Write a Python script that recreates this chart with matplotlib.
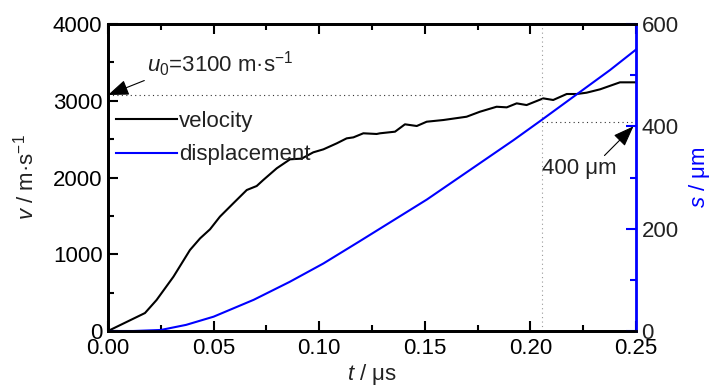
import matplotlib
matplotlib.use("Agg")
import matplotlib.pyplot as plt
from matplotlib.ticker import MultipleLocator
from matplotlib import font_manager

fams = {f.name for f in font_manager.fontManager.ttflist}
fam = ['Liberation Sans Narrow'] if 'Liberation Sans Narrow' in fams else ['Liberation Sans']
plt.rcParams['font.family'] = fam + ['DejaVu Sans']
plt.rcParams['mathtext.fontset'] = 'custom'
plt.rcParams['mathtext.rm'] = fam[0]
plt.rcParams['mathtext.it'] = fam[0] + ':italic'

# velocity (m/s) vs time (us)
t_v = [0.0, 0.0175, 0.023, 0.031, 0.0388, 0.0436, 0.0483, 0.053, 0.0593, 0.0657, 0.0704,
       0.0735, 0.0799, 0.0862, 0.0917, 0.0972, 0.102, 0.1083, 0.113, 0.1162, 0.1209,
       0.1272, 0.1288, 0.1359, 0.1406, 0.1462, 0.1509, 0.1588, 0.1698, 0.1761, 0.184,
       0.1888, 0.1935, 0.1982, 0.2061, 0.2108, 0.2172, 0.222, 0.2266, 0.233, 0.2424, 0.25]
v = [0, 234, 404, 708, 1055, 1207, 1325, 1490, 1663, 1837, 1889,
     1967, 2120, 2237, 2246, 2328, 2367, 2445, 2510, 2523, 2576,
     2567, 2576, 2597, 2693, 2671, 2727, 2749, 2792, 2857, 2922,
     2914, 2966, 2944, 3031, 3010, 3088, 3088, 3105, 3149, 3240, 3240]

# displacement (um) vs time (us)
t_s = [0.0, 0.012, 0.025, 0.037, 0.05, 0.069, 0.086, 0.102, 0.119, 0.151, 0.192, 0.2045, 0.2377, 0.25]
s = [0, 0, 2, 12, 28, 61, 96, 132, 175, 257, 373, 410, 510, 550]

u0_level = 3075
t_mark = 0.2053
s_mark = 409

fig = plt.figure(figsize=(7.26, 3.9), dpi=100)
ax = fig.add_axes([108/726, 1-331/390, (636-108)/726, (331-24)/390])
ax2 = ax.twinx()

ax.plot(t_v, v, color='black', lw=1.5, label='velocity')
ax2.plot(t_s, s, color='#0000ff', lw=1.5, label='displacement')

ax.set_xlim(0, 0.25)
ax.set_ylim(0, 4000)
ax2.set_ylim(0, 600)

ax.xaxis.set_major_locator(MultipleLocator(0.05))
ax.xaxis.set_minor_locator(MultipleLocator(0.025))
ax.yaxis.set_major_locator(MultipleLocator(1000))
ax.yaxis.set_minor_locator(MultipleLocator(500))
ax2.yaxis.set_major_locator(MultipleLocator(200))
ax2.yaxis.set_minor_locator(MultipleLocator(100))
ax.xaxis.set_major_formatter(plt.FuncFormatter(lambda x, p: f"{x:.2f}"))

fs = 16
ax.tick_params(axis='x', which='both', direction='in', top=True, labelsize=fs, pad=5)
ax.tick_params(axis='y', which='both', direction='in', right=False, labelsize=fs, pad=4)
ax.tick_params(which='major', length=7, width=1.5)
ax.tick_params(which='minor', length=4, width=1.5)
ax2.tick_params(axis='y', which='both', direction='in', colors='#0000ff', labelcolor='#222222', labelsize=fs, pad=4)
ax2.tick_params(which='major', length=7, width=1.5)
ax2.tick_params(which='minor', length=4, width=1.5)

for sp in ['left', 'bottom', 'top']:
    ax.spines[sp].set_linewidth(2)
    ax2.spines[sp].set_linewidth(2)
ax2.spines['right'].set_color('#0000ff')
ax2.spines['right'].set_linewidth(2)
ax.spines['right'].set_visible(False)

ax.set_xlabel(r'$t$ / μs', fontsize=fs, color='#222222', labelpad=2)
ax.set_ylabel(r'$v$ / m·s$^{-1}$', fontsize=fs, color='#222222', labelpad=10)
ax2.set_ylabel(r'$s$ / μm', fontsize=fs, color='#0000ff', labelpad=6)

# guide lines
ax.plot([0, t_mark], [u0_level, u0_level], ls=(0, (1, 3)), color='#333333', lw=0.8)
ax.axvline(t_mark, ls=(0, (1, 3)), color='#999999', lw=0.8)
ax2.plot([t_mark, 0.25], [s_mark, s_mark], ls=(0, (1, 3)), color='#333333', lw=0.8)

# annotations
ax.annotate(r'$u_0$=3100 m·s$^{-1}$', xy=(0, u0_level), xytext=(0.0185, 3470),
            fontsize=fs, color='#222222', ha='left', va='center',
            arrowprops=dict(arrowstyle='-|>,head_length=0.8,head_width=0.3', color='black', lw=0.8,
                            shrinkA=0, shrinkB=0, relpos=(0.0, 0.0)))
ax2.annotate('400 μm', xy=(0.2488, 400), xytext=(0.2055, 317),
             fontsize=fs, color='#222222', ha='left', va='center',
             arrowprops=dict(arrowstyle='-|>,head_length=0.8,head_width=0.3', color='black', lw=0.8,
                             shrinkA=0, shrinkB=0, relpos=(0.8, 1.0)))

h1, l1 = ax.get_legend_handles_labels()
h2, l2 = ax2.get_legend_handles_labels()
leg = ax2.legend(h1 + h2, l1 + l2, loc='upper left', bbox_to_anchor=(-0.002, 0.745),
                 frameon=False, fontsize=fs, handlelength=2.75, handletextpad=0.1,
                 labelspacing=0.55, borderaxespad=0)
for txt in leg.get_texts():
    txt.set_color('#222222')

fig.savefig('out.png', dpi=100)
